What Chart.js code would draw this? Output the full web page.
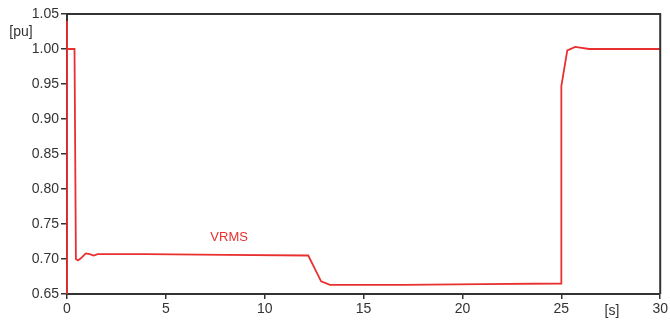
<!DOCTYPE html>
<html>
<head>
<meta charset="utf-8">
<script src="https://cdn.jsdelivr.net/npm/chart.js@4/dist/chart.umd.min.js"></script>
<style>
  html, body { margin: 0; padding: 0; background: #fff; }
  #contenedor { width: 670px; height: 320px; }
</style>
</head>
<body>
<div id="contenedor"><canvas id="graficoVrms"></canvas></div>
<script>
// tiempo de simulacion [s] y tension RMS [pu]
let tiempo = [0, 0, 0.01, 0.38, 0.45, 0.55, 0.7, 0.95, 1.15, 1.35, 1.55, 4, 8, 12.2, 12.5, 12.85, 13.3, 17, 21, 25.0, 25.0, 25.3, 25.7, 26.4, 30];
let vrms   = [0.60, 1.04, 1.0, 1.0, 0.700, 0.698, 0.701, 0.708, 0.707, 0.705, 0.707, 0.707, 0.706, 0.705, 0.688, 0.668, 0.663, 0.663, 0.664, 0.665, 0.947, 0.998, 1.003, 1.0, 1.0];

let ticksX = [0, 5, 10, 15, 20, 25, 30];
let ticksY = [0.65, 0.70, 0.75, 0.80, 0.85, 0.90, 0.95, 1.00, 1.05];

let puntos = tiempo.map((t, i) => ({ x: t, y: vrms[i] }));

const rojo = '#e8302f';
const gris = '#333333';
const fuente = { family: 'Liberation Sans, Arial, sans-serif', size: 14 };

// marco del grafico y etiquetas de unidades
let marco = {
  id: 'marco',
  afterDraw(chart) {
    let { ctx, chartArea: a } = chart;
    ctx.save();
    ctx.strokeStyle = gris;
    ctx.lineWidth = 2;
    ctx.beginPath();
    ctx.moveTo(a.left, a.top);
    ctx.lineTo(a.right, a.top);
    ctx.lineTo(a.right, a.bottom);
    ctx.stroke();

    ctx.font = '14px Liberation Sans, Arial, sans-serif';
    ctx.fillStyle = gris;
    ctx.textAlign = 'center';
    ctx.textBaseline = 'middle';
    ctx.fillText('[pu]', 21, 32);
    ctx.fillText('[s]', 612, 311);

    ctx.fillStyle = rojo;
    ctx.font = '13px Liberation Sans, Arial, sans-serif';
    ctx.fillText('VRMS', chart.scales.x.getPixelForValue(8.2), chart.scales.y.getPixelForValue(0.731));
    ctx.restore();
  }
};

let chart = new Chart(document.getElementById('graficoVrms').getContext('2d'), {
  type: 'line',
  data: {
    datasets: [{
      label: 'VRMS',
      data: puntos,
      borderColor: rojo,
      borderWidth: 1.8,
      pointRadius: 0,
      tension: 0,
      fill: false,
      clip: { left: 2, top: 0, right: 0, bottom: 0 }
    }]
  },
  options: {
    responsive: true,
    maintainAspectRatio: false,
    animation: false,
    layout: { padding: { left: 0, top: 14, right: 9, bottom: 0 } },
    plugins: {
      legend: { display: false },
      tooltip: { enabled: false }
    },
    scales: {
      x: {
        type: 'linear',
        min: 0,
        max: 30,
        afterBuildTicks: s => { s.ticks = ticksX.map(v => ({ value: v })); },
        afterFit: s => { s.height = 26; },
        border: { display: true, color: gris, width: 2 },
        grid: { drawOnChartArea: false, drawTicks: true, tickLength: 5, color: gris, lineWidth: 1.5 },
        ticks: { color: gris, font: fuente, padding: 2, maxRotation: 0, autoSkip: false }
      },
      y: {
        type: 'linear',
        min: 0.65,
        max: 1.05,
        afterBuildTicks: s => { s.ticks = ticksY.map(v => ({ value: v })); },
        afterFit: s => { s.width = 67; },
        border: { display: true, color: gris, width: 2 },
        grid: { drawOnChartArea: false, drawTicks: true, tickLength: 6, color: gris, lineWidth: 1.5 },
        ticks: { color: gris, font: fuente, padding: 2, callback: v => v.toFixed(2) }
      }
    }
  },
  plugins: [marco]
});
</script>
</body>
</html>
